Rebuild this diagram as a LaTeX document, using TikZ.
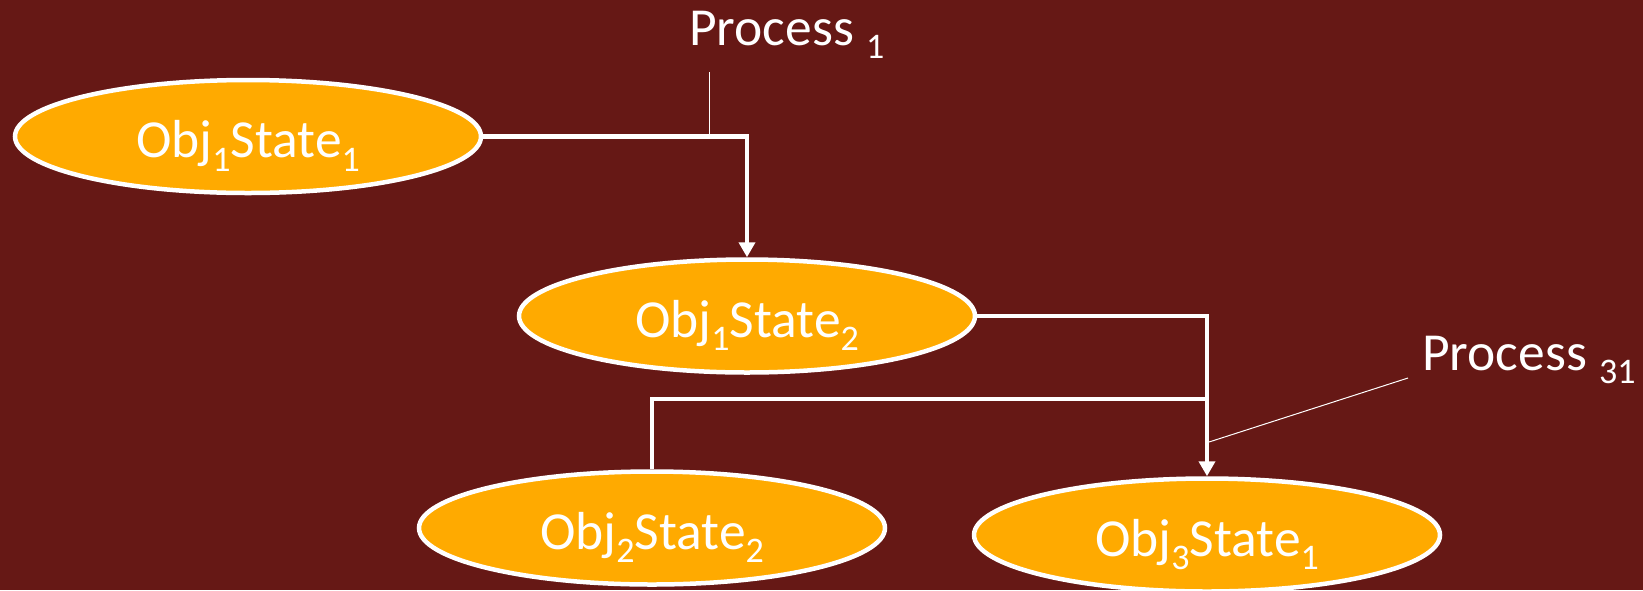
\documentclass[tikz,border=0pt]{standalone}
\usepackage{fontspec}
\setmainfont{Carlito}
\usepackage{tikz}
\usetikzlibrary{shapes, shapes.geometric, arrows.meta, positioning}

\definecolor{bgred}{RGB}{102,24,21}
\definecolor{stateorange}{RGB}{255,170,0}

\newcommand{\lowidx}[1]{\raisebox{-13.5pt}{\fontsize{36}{36}\selectfont #1}}

\begin{document}
\begin{tikzpicture}[
  x=1pt, y=-1pt,
  font=\fontsize{53.5}{62}\selectfont,
  state/.style={ellipse, draw=white, fill=stateorange, text=white,
    line width=4.5pt, inner sep=0pt, minimum width=466pt, minimum height=113pt,
    text height=42pt, text depth=0pt},
  flow/.style={draw=white, line width=4.5pt, -{Triangle[width=16pt,length=15pt]}},
  mergeline/.style={draw=white, line width=4.5pt},
  callout/.style={draw=white, line width=1pt},
  proclabel/.style={text=white, inner sep=0pt, anchor=base west}]

  \useasboundingbox (0,0) rectangle (1643,590);
  \fill[bgred] (0,0) rectangle (1643,590);

  \node[state] (s11) at (248,136.5) {Obj\lowidx{1}State\lowidx{1}};
  \node[state, minimum width=456pt] (s12) at (747,316) {Obj\lowidx{1}State\lowidx{2}};
  \node[state] (s22) at (652,528) {Obj\lowidx{2}State\lowidx{2}};
  \node[state] (s31) at (1207,535) {Obj\lowidx{3}State\lowidx{1}};

  \draw[flow] (s11.east) -| (s12.north);
  \draw[flow] (s12.east) -| (s31.north);
  \coordinate (merge) at (1207,399);
  \draw[mergeline] (s22.north) |- (merge);

  \node[proclabel] (p1) at (689,45) {Process \lowidx{1}};
  \node[proclabel] (p31) at (1422,370) {Process \lowidx{31}};

  \coordinate (tap1) at (709,72);
  \draw[callout] (tap1) -- (tap1 |- s11.east);
  \coordinate (tap31a) at (1408,378);
  \coordinate (tap31b) at (1209,442);
  \draw[callout] (tap31a) -- (tap31b);
\end{tikzpicture}
\end{document}
